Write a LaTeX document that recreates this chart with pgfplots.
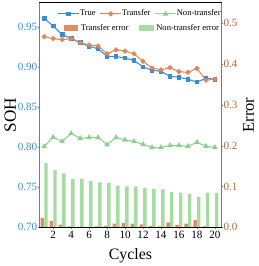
\documentclass[border=0pt]{standalone}
\usepackage{fontspec}
\setmainfont{Liberation Serif}
\usepackage{pgfplots}
\pgfplotsset{compat=1.18}
\definecolor{cblue}{RGB}{58,141,208}
\definecolor{corange}{RGB}{222,135,90}
\definecolor{cgreen}{RGB}{140,208,140}
\definecolor{cbrown}{RGB}{178,102,62}
\definecolor{barorange}{RGB}{224,140,104}
\definecolor{bargreen}{RGB}{165,220,160}
\begin{document}
\begin{tikzpicture}
\pgfplotsset{
  common/.style={width=138pt,height=170pt,scale only axis,
    xmin=0.45,xmax=20.74,
    /pgf/number format/assume math mode=true,
    tick label style={font=\fontsize{8.4}{10}\selectfont},
    yticklabel style={inner xsep=0.3pt},
    xticklabel style={inner ysep=2pt},
    tick align=outside, major tick length=1pt,
    legend cell align=left,
    legend style={draw=none, fill=white, inner sep=0.5pt,
      font=\fontsize{6.5}{7}\selectfont,
      nodes={inner xsep=0pt, inner ysep=1pt}},
  }
}
% right axis: error bars
\begin{axis}[common,
  axis y line*=right, axis x line*=top, xtick=\empty,
  ymin=0, ymax=0.55, ytick={0,0.1,0.2,0.3,0.4,0.5},
  yticklabel style={color=cbrown, /pgf/number format/.cd, fixed, fixed zerofill, precision=1},
  y axis line style={cbrown, line width=0.8pt},
  x axis line style={black, line width=0.8pt},
  ytick style={cbrown},
  ylabel={Error}, ylabel style={font=\fontsize{12.5}{14}\selectfont}, ylabel shift=0.5pt,
  legend columns=2,
  legend style={at={(0.991,0.915)}, anchor=north east,
    /tikz/every even column/.append style={column sep=8pt}},
  legend image code/.code={\fill[#1] (0pt,-2.25pt) rectangle (11pt,2.25pt); \path (13pt,0pt);},
]
\addplot[ybar, bar width=0.38, bar shift=-0.2, fill=barorange, draw=none] coordinates {
(1,0.0225) (2,0.016) (3,0.0065) (4,0.002) (5,0.001) (6,0.001) (7,0.002) (8,0.003) (9,0.009) (10,0.010)
(11,0.009) (12,0.007) (13,0.003) (14,0.002) (15,0.012) (16,0.006) (17,0.009) (18,0.0185) (19,0.002) (20,0.001)};
\addplot[ybar, bar width=0.38, bar shift=0.2, fill=bargreen, draw=none] coordinates {
(1,0.158) (2,0.140) (3,0.132) (4,0.118) (5,0.118) (6,0.114) (7,0.110) (8,0.109) (9,0.102) (10,0.100)
(11,0.100) (12,0.096) (13,0.094) (14,0.093) (15,0.086) (16,0.085) (17,0.082) (18,0.074) (19,0.085) (20,0.084)};
\legend{Transfer error, Non-transfer error}
\end{axis}
% left axis: SOH lines
\begin{axis}[common,
  axis y line*=left, axis x line*=bottom,
  ymin=0.70, ymax=0.98, ytick={0.70,0.75,0.80,0.85,0.90,0.95},
  yticklabel style={color=cblue, /pgf/number format/.cd, fixed, fixed zerofill, precision=2},
  y axis line style={cblue, line width=1.1pt},
  x axis line style={black, line width=0.8pt},
  ytick style={cblue},
  xtick={2,4,...,20},
  xlabel={Cycles}, xlabel style={font=\fontsize{12}{14}\selectfont, inner ysep=2.5pt}, xlabel shift=2.3pt,
  ylabel={SOH}, ylabel style={font=\fontsize{13}{15}\selectfont}, ylabel shift=-2.4pt,
  legend columns=3,
  legend style={at={(1,0.978)}, anchor=north east,
    /tikz/every even column/.append style={column sep=3pt}},
  legend image code/.code={\draw[#1] (0pt,0pt) -- (8pt,0pt) (16pt,0pt) -- (8pt,0pt) plot coordinates {(8pt,0pt)};},
]
\addplot[cblue, line width=0.8pt, mark=square*, mark size=1.4pt] coordinates {
(1,0.9604) (2,0.951) (3,0.940) (4,0.9357) (5,0.930) (6,0.9258) (7,0.9225) (8,0.913) (9,0.913) (10,0.911)
(11,0.908) (12,0.900) (13,0.8957) (14,0.8945) (15,0.8883) (16,0.887) (17,0.8846) (18,0.881) (19,0.8858) (20,0.8846)};
\addplot[corange, line width=0.8pt, mark=*, mark size=1.5pt] coordinates {
(1,0.9377) (2,0.9352) (3,0.934) (4,0.935) (5,0.930) (6,0.9274) (7,0.926) (8,0.9163) (9,0.9212) (10,0.9196)
(11,0.9163) (12,0.9068) (13,0.8986) (14,0.8962) (15,0.899) (16,0.894) (17,0.8932) (18,0.8981) (19,0.8834) (20,0.8846)};
\addplot[cgreen, line width=0.8pt, mark=triangle*, mark size=1.7pt] coordinates {
(1,0.8008) (2,0.8123) (3,0.807) (4,0.817) (5,0.811) (6,0.812) (7,0.812) (8,0.803) (9,0.812) (10,0.809)
(11,0.807) (12,0.8036) (13,0.7995) (14,0.7995) (15,0.802) (16,0.802) (17,0.801) (18,0.806) (19,0.801) (20,0.7995)};
\legend{True, Transfer, Non-transfer}
\end{axis}
\path ([yshift=1.5pt]current bounding box.north);
\end{tikzpicture}
\end{document}
